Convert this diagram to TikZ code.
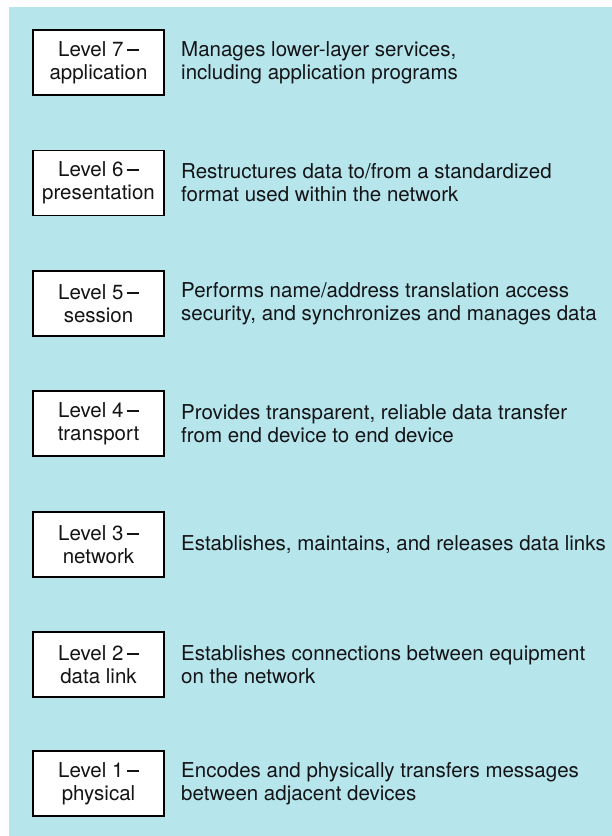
\documentclass[tikz,border=0pt]{standalone}
\usepackage{fontspec}
\setmainfont{TeX Gyre Heros}
\usetikzlibrary{positioning}
\definecolor{panelblue}{RGB}{182,229,236}
\definecolor{inkdark}{RGB}{20,20,22}
\newcommand{\lvldash}{\,\rule[5.5pt]{12pt}{1.9pt}}
\tikzstyle{lvl}=[rectangle,draw=black,line width=1.8pt,fill=white,minimum width=131pt,minimum height=65pt,inner sep=0pt,outer sep=0pt,align=center,font=\fontsize{20.5}{23}\selectfont,text=inkdark]
\tikzstyle{dsc}=[anchor=west,inner sep=0pt,align=left,font=\fontsize{20.5}{23}\selectfont,text=inkdark]

\begin{document}
\begin{tikzpicture}[x=1pt,y=-1pt]
                \useasboundingbox (0,0) rectangle (612,836);
                \fill[panelblue] (9,7) rectangle (612,836);
                % levels
                \draw (98.5,62.5) node[lvl] (l7) {Level 7\lvldash\\application};
                \draw (98.5,183) node[lvl] (l6) {Level 6\lvldash\\presentation};
                \draw (98.5,303.5) node[lvl] (l5) {Level 5\lvldash\\session};
                \draw (98.5,423.5) node[lvl] (l4) {Level 4\lvldash\\transport};
                \draw (98.5,544.5) node[lvl] (l3) {Level 3\lvldash\\network};
                \draw (98.5,664.5) node[lvl] (l2) {Level 2\lvldash\\data link};
                \draw (98.5,783.5) node[lvl] (l1) {Level 1\lvldash\\physical};
                % what each level does
                \node[dsc,right=17pt of l7] (d7) {Manages lower-layer services,\\including application programs};
                \node[dsc,right=17pt of l6] (d6) {Restructures data to/from a standardized\\format used within the network};
                \node[dsc,right=17pt of l5] (d5) {Performs name/address translation access\\security, and synchronizes and manages data};
                \node[dsc,right=17pt of l4] (d4) {Provides transparent, reliable data transfer\\from end device to end device};
                \node[dsc,right=17pt of l3] (d3) {Establishes, maintains, and releases data links};
                \node[dsc,right=17pt of l2] (d2) {Establishes connections between equipment\\on the network};
                \node[dsc,right=17pt of l1] (d1) {Encodes and physically transfers messages\\between adjacent devices};
        \end{tikzpicture}
\end{document}
